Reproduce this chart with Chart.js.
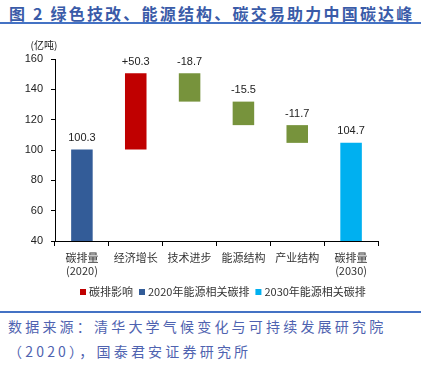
<!DOCTYPE html>
<html>
<head>
<meta charset="utf-8">
<script src="https://cdn.jsdelivr.net/npm/chart.js@4"></script>
<style>
  body{margin:0;width:421px;height:365px;background:#fff;position:relative;overflow:hidden;font-family:"Noto Sans CJK SC",sans-serif;}
  #title{position:absolute;left:9px;top:1px;font-size:16px;font-weight:bold;color:#3A5BA8;letter-spacing:2.2px;white-space:nowrap;}
  .rule{position:absolute;left:0;width:421px;height:2px;background:#4472C4;}
  #src{position:absolute;left:8px;top:314px;font-size:14px;color:#4F63B0;letter-spacing:3.2px;line-height:25px;white-space:nowrap;}
  #wrap{position:absolute;left:0;top:28px;width:421px;height:280px;}
</style>
</head>
<body>
<div id="title">图 2 绿色技改、能源结构、碳交易助力中国碳达峰</div>
<div class="rule" style="top:22px"></div>
<div id="wrap"><canvas id="c"></canvas></div>
<div class="rule" style="top:311px"></div>
<div id="src">数据来源：清华大学气候变化与可持续发展研究院<br>（2020），国泰君安证券研究所</div>
<script>
const categories = [['碳排量','(2020)'],'经济增长','技术进步','能源结构','产业结构',['碳排量','(2030)']];
const start2020 = 100.3;
const changes = [50.3, -18.7, -15.5, -11.7];
const end2030 = 104.7;
const valueLabels = ['100.3','+50.3','-18.7','-15.5','-11.7','104.7'];
const yTicks = [40, 60, 80, 100, 120, 140, 160];
const legendNames = ['碳排影响','2020年能源相关碳排','2030年能源相关碳排'];

// build floating ranges for the waterfall
let level = start2020;
const steps = changes.map(d => { const r = [level, level + d].sort((a,b)=>a-b); level += d; return r; });

const red   = [null, steps[0], null, null, null, null];
const green = [null, null, steps[1], steps[2], steps[3], null];
const blue20 = [start2020, null, null, null, null, null];
const blue30 = [null, null, null, null, null, end2030];

const labelPlugin = {
  id:'vals',
  afterDatasetsDraw(chart){
    const ctx = chart.ctx;
    ctx.save();
    ctx.font = '11px "Liberation Sans", Arial, sans-serif';
    ctx.fillStyle = '#222';
    ctx.textAlign = 'center';
    ctx.textBaseline = 'bottom';
    chart.data.datasets.forEach((ds, di) => {
      chart.getDatasetMeta(di).data.forEach((el, i) => {
        if (ds.data[i] == null) return;
        const top = Math.min(el.y, el.base);
        ctx.fillText(valueLabels[i], el.x, top - 6);
      });
    });
    // unit label
    const a = chart.chartArea;
    ctx.font = '10px "Noto Sans CJK SC", sans-serif';
    ctx.textBaseline = 'middle';
    ctx.fillText('(亿吨)', a.left - 11, a.top - 14);

    // legend (green steps are not listed)
    const items = [0, 2, 3];
    ctx.font = '11px "Noto Sans CJK SC", sans-serif';
    ctx.textAlign = 'left';
    let x = 80;
    const y = 264;
    items.forEach((di, k) => {
      ctx.fillStyle = chart.data.datasets[di].backgroundColor;
      ctx.fillRect(x, y - 3, 6, 6);
      ctx.fillStyle = '#333';
      ctx.fillText(legendNames[k], x + 9, y);
      x += 9 + ctx.measureText(legendNames[k]).width + 6;
    });
    ctx.restore();
  }
};

new Chart(document.getElementById('c'), {
  type:'bar',
  data:{
    labels:categories,
    datasets:[
      {label:legendNames[0], data:red, backgroundColor:'#C00000'},
      {label:'green', data:green, backgroundColor:'#77933C'},
      {label:legendNames[1], data:blue20, backgroundColor:'#335C98'},
      {label:legendNames[2], data:blue30, backgroundColor:'#00B0F0'}
    ]
  },
  options:{
    responsive:true,
    maintainAspectRatio:false,
    animation:false,
    datasets:{bar:{grouped:false, categoryPercentage:1, barPercentage:0.4}},
    layout:{padding:{left:0, right:43, top:31, bottom:28}},
    plugins:{
      legend:{display:false},
      tooltip:{enabled:false}
    },
    scales:{
      x:{
        grid:{display:true, offset:true, drawOnChartArea:false, tickLength:5, color:'#000'},
        border:{color:'#000', width:1},
        ticks:{color:'#333', font:{size:11, family:'"Noto Sans CJK SC", sans-serif'}, maxRotation:0, padding:5},
        afterFit:s => { s.height = 39; }
      },
      y:{
        min:40, max:160,
        afterBuildTicks:s => { s.ticks = yTicks.map(v => ({value:v})); },
        afterFit:s => { s.width = 55; },
        grid:{display:true, drawOnChartArea:false, tickLength:4, color:'#000'},
        border:{color:'#000', width:1},
        ticks:{color:'#222', padding:8, font:{size:11, family:'"Liberation Sans", Arial, sans-serif'}}
      }
    }
  },
  plugins:[labelPlugin]
});
</script>
</body>
</html>
